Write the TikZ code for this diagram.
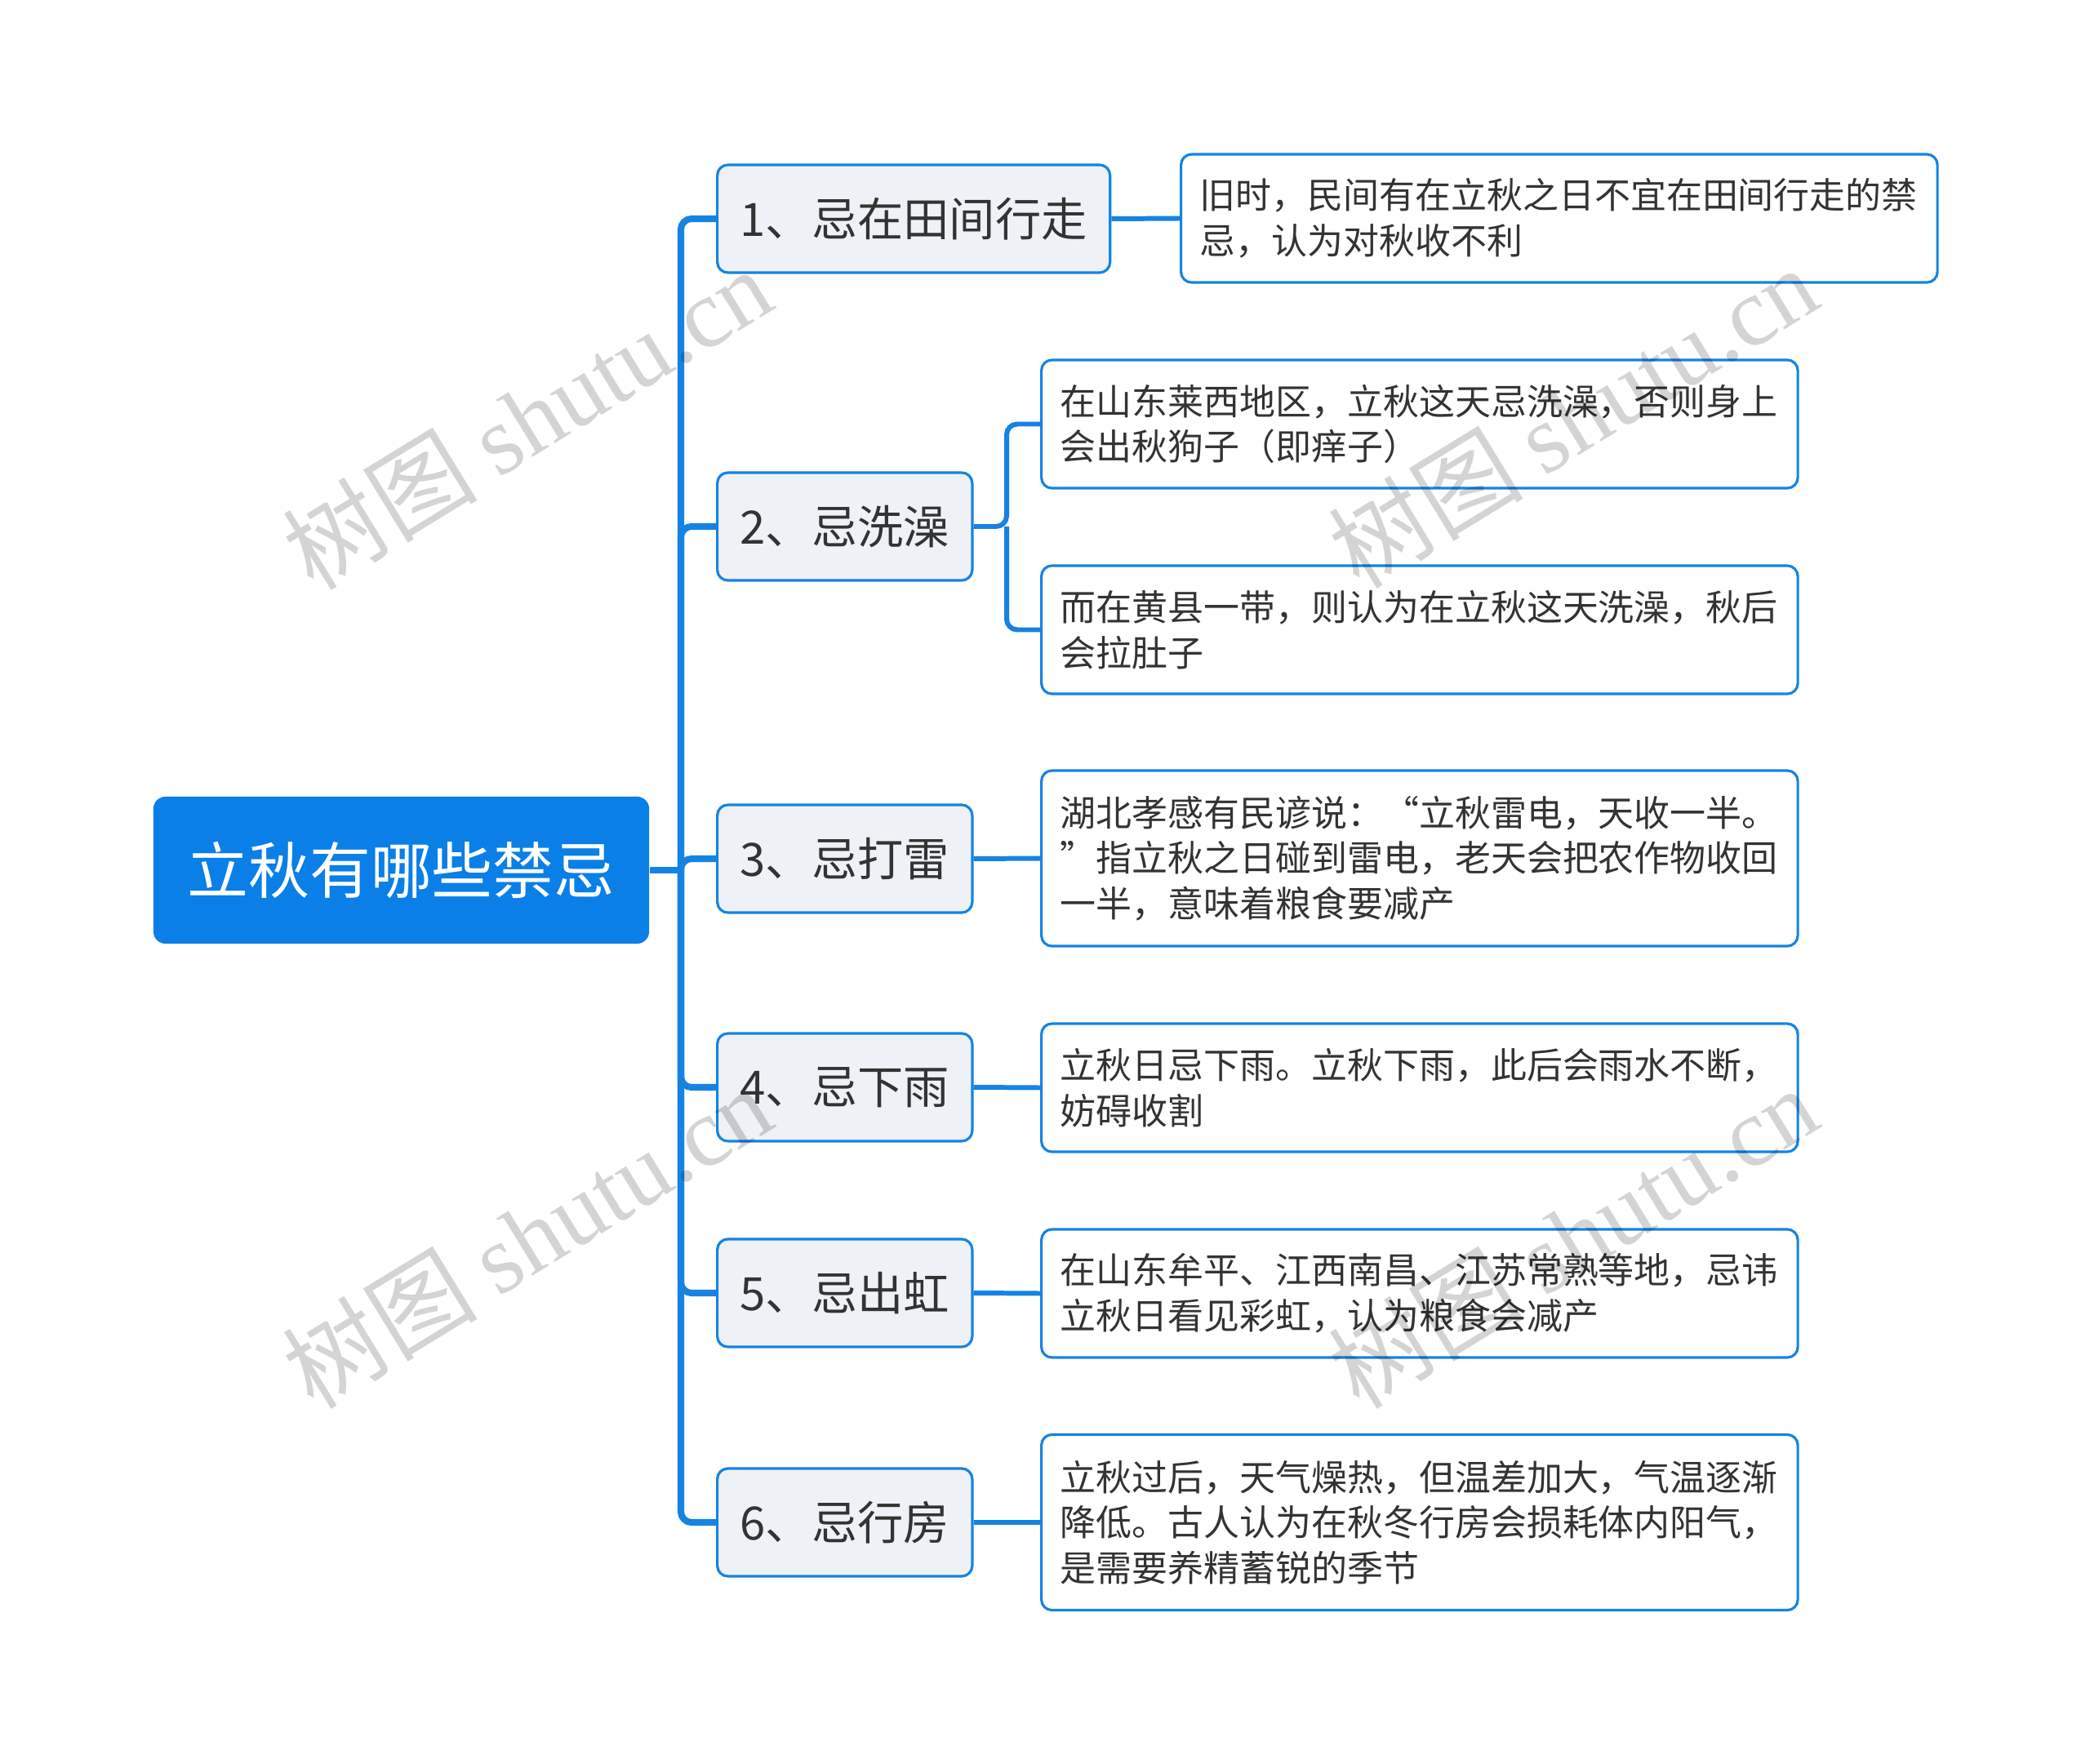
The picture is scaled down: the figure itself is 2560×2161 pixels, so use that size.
\documentclass[tikz,border=0pt]{standalone}
\usepackage{fontspec}
\setmainfont{Noto Sans CJK SC}
\newfontfamily\markfont{Liberation Serif}
\usetikzlibrary{positioning}
\definecolor{mainblue}{HTML}{0A7FE8}
\definecolor{linkblue}{HTML}{1683E3}
\definecolor{topicfill}{HTML}{EEF2F6}
\definecolor{textgray}{HTML}{333333}

\begin{document}
\begin{tikzpicture}[x=0.01cm, y=-0.01cm,
        root/.style={rectangle, fill=mainblue, text=white, rounded corners=0.15cm, minimum width=6.07cm, minimum height=1.8cm, font=\fontsize{21.3pt}{25pt}\selectfont},
        topic/.style={rectangle, draw=linkblue, line width=0.9pt, fill=topicfill, text=textgray, rounded corners=0.13cm, minimum height=1.32cm, inner xsep=0.28cm, font=\fontsize{16pt}{19pt}\selectfont},
        note/.style={rectangle, draw=linkblue, line width=0.9pt, fill=white, text=textgray, rounded corners=0.13cm, text width=8.8cm, align=left, inner xsep=0.23cm, minimum height=1.57cm, font=\fontsize{12.5pt}{15.8pt}\selectfont},
        tall/.style={minimum height=2.15cm},
        link/.style={draw=linkblue, line width=2.3pt, rounded corners=0.13cm},
        sublink/.style={link, line width=1.7pt},
        wmark/.style={rotate=31.5, text=black, text opacity=0.17, inner sep=0pt}]

        \useasboundingbox (0,0) rectangle (2560,2161);

        \node [root] (root) at (491.5,1066) {立秋有哪些禁忌};

        \node [topic, anchor=west] (t1) at (877,268) {1、忌在田间行走};
        \node [topic, anchor=west] (t2) at (877,645) {2、忌洗澡};
        \node [topic, anchor=west] (t3) at (877,1052) {3、忌打雷};
        \node [topic, anchor=west] (t4) at (877,1332) {4、忌下雨};
        \node [topic, anchor=west] (t5) at (877,1584) {5、忌出虹};
        \node [topic, anchor=west] (t6) at (877,1865) {6、忌行房};

        \node [note, anchor=west] (n1) at (1445,267.5) {旧时，民间有在立秋之日不宜在田间行走的禁\\忌，认为对秋收不利};
        \node [note, anchor=west] (n2a) at (1274,519.5) {在山东莱西地区，立秋这天忌洗澡，否则身上\\会出秋狗子（即痒子）};
        \node [note, anchor=west] (n2b) at (1274,771.5) {而在黄县一带，则认为在立秋这天洗澡，秋后\\会拉肚子};
        \node [note, tall, anchor=west] (n3) at (1274,1051.5) {湖北孝感有民谚说：“立秋雷电，天收一半。\\”指立秋之日碰到雷电，老天会把农作物收回\\一半，意味着粮食要减产};
        \node [note, anchor=west] (n4) at (1274,1332.5) {立秋日忌下雨。立秋下雨，此后会雨水不断，\\妨碍收割};
        \node [note, anchor=west] (n5) at (1274,1584.5) {在山东牟平、江西南昌、江苏常熟等地，忌讳\\立秋日看见彩虹，认为粮食会减产};
        \node [note, tall, anchor=west] (n6) at (1274,1865) {立秋过后，天气燥热，但温差加大，气温逐渐\\降低。古人认为在秋冬行房会损耗体内阳气，\\是需要养精蓄锐的季节};

        % trunk from the root
        \coordinate (hub) at (834,1066);
        \draw [link] (root.east) -- (hub);
        \foreach \k in {t1,t2,t3,t4,t5,t6}
            \draw [link] (hub) |- (\k.west);

        % second level
        \coordinate (fork) at (1233,645);
        \draw [sublink] (t1.east) -- (n1.west);
        \draw [sublink] (t2.east) -- (fork) |- (n2a.west);
        \draw [sublink] (fork) |- (n2b.west);
        \draw [sublink] (t3.east) -- (n3.west);
        \draw [sublink] (t4.east) -- (n4.west);
        \draw [sublink] (t5.east) -- (n5.west);
        \draw [sublink] (t6.east) -- (n6.west);

        % watermark
        \foreach \wx/\wy [count=\i] in {645/512, 1926/510, 645/1515, 1926/1515}
            \node [wmark] (wm\i) at (\wx,\wy) {\fontsize{34pt}{34pt}\selectfont 树图 \markfont shutu.cn};
    \end{tikzpicture}
\end{document}
